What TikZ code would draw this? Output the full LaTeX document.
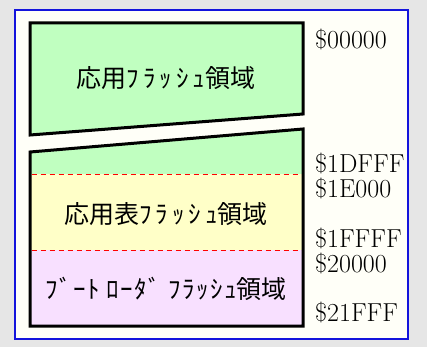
\documentclass[tikz,border=0pt]{standalone}
\usepackage{fontspec}
\newfontfamily\jp{Noto Sans CJK JP}
\newfontfamily\jph[LetterSpace=16]{Noto Sans CJK JP}
\newfontfamily\jpb[LetterSpace=6]{Noto Sans CJK JP}
\definecolor{bggray}{RGB}{230,230,230}
\definecolor{panelfill}{RGB}{255,255,248}
\definecolor{panelblue}{RGB}{20,20,220}
\definecolor{areagreen}{RGB}{192,255,192}
\definecolor{areayellow}{RGB}{255,255,200}
\definecolor{areapink}{RGB}{248,224,255}
\tikzset{
  addr/.style={anchor=west, inner sep=0pt, font=\fontsize{26}{26}\selectfont},
  area/.style={inner sep=0pt, font=\fontsize{25}{25}\jp},
  outline/.style={draw=black, line width=3pt, line join=miter},
  divider/.style={draw=red, line width=1pt, dash pattern=on 5pt off 4pt}
}
\begin{document}
\begin{tikzpicture}[x=1pt,y=-1pt]
\useasboundingbox (0,0) rectangle (427,347);
\fill[bggray] (0,0) rectangle (427,347);
\draw[panelblue, fill=panelfill, line width=1.2pt] (15,10) rectangle (408,339);
% top block
\fill[areagreen] (30,23) -- (303,23) -- (303,114) -- (30,135) -- cycle;
\draw[outline] (30,23) -- (303,23) -- (303,114) -- (30,135) -- cycle;
% lower block
\fill[areagreen] (30,152) -- (303,129) -- (303,174) -- (30,174) -- cycle;
\fill[areayellow] (30,174) rectangle (303,250);
\fill[areapink] (30,250) rectangle (303,326);
\coordinate (d1l) at (31.5,174);
\coordinate (d1r) at (301.5,174);
\coordinate (d2l) at (31.5,250);
\coordinate (d2r) at (301.5,250);
\draw[divider] (d1l) -- (d1r);
\draw[divider] (d2l) -- (d2r);
\draw[outline] (30,152) -- (303,129) -- (303,326) -- (30,326) -- cycle;
% area labels
\node[area] (app) at (166,78) {応用{\jph ﾌﾗｯｼｭ}領域};
\node[area] (tbl) at (166,214) {応用表{\jph ﾌﾗｯｼｭ}領域};
\node[area] (boot) at (166,289) {{\jpb ﾌﾞｰﾄ ﾛｰﾀﾞ ﾌﾗｯｼｭ}領域};
% addresses
\node[addr] (a0) at (315,39) {\$00000};
\node[addr] (a1) at (315,163) {\$1DFFF};
\node[addr] (a2) at (315,188) {\$1E000};
\node[addr] (a3) at (315,238) {\$1FFFF};
\node[addr] (a4) at (315,263) {\$20000};
\node[addr] (a5) at (315,312) {\$21FFF};
\end{tikzpicture}
\end{document}
